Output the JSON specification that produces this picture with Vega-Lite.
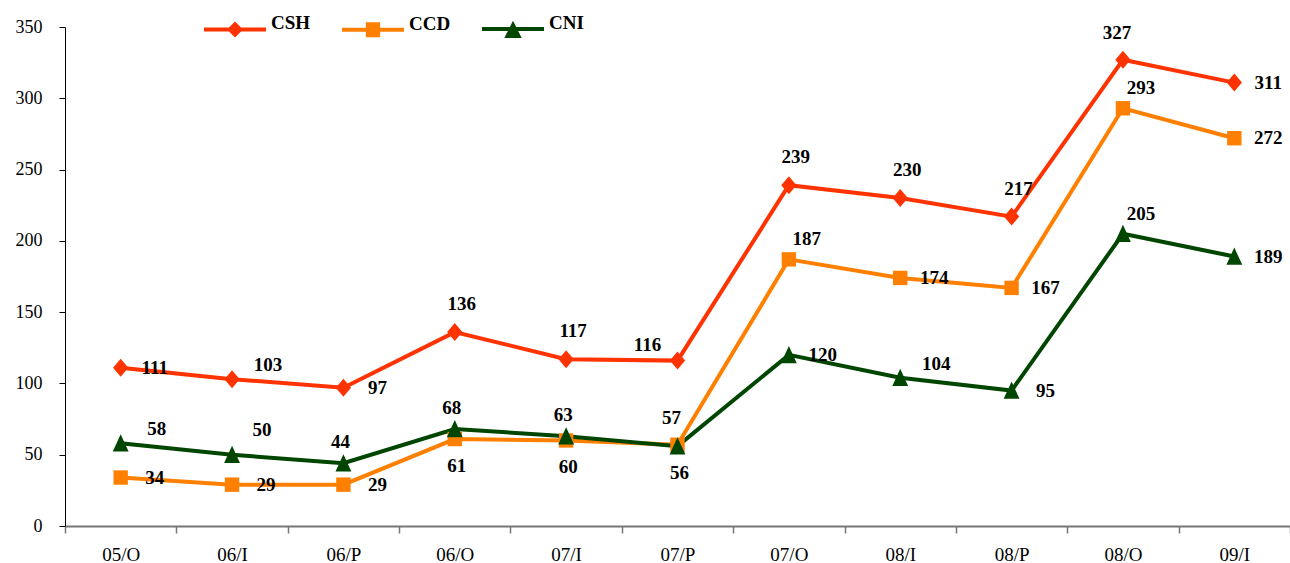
{
  "$schema": "https://vega.github.io/schema/vega-lite/v6.json",
  "width": 1225,
  "height": 499,
  "autosize": {"type": "none"},
  "padding": {"left": 65, "top": 27, "right": 0, "bottom": 37},
  "background": "white",
  "config": {"view": {"stroke": null}, "font": "Liberation Serif"},
  "data": {"values": [
    {"p": "05/O", "s": "CSH", "v": 111}, {"p": "06/I", "s": "CSH", "v": 103}, {"p": "06/P", "s": "CSH", "v": 97},
    {"p": "06/O", "s": "CSH", "v": 136}, {"p": "07/I", "s": "CSH", "v": 117}, {"p": "07/P", "s": "CSH", "v": 116},
    {"p": "07/O", "s": "CSH", "v": 239}, {"p": "08/I", "s": "CSH", "v": 230}, {"p": "08/P", "s": "CSH", "v": 217},
    {"p": "08/O", "s": "CSH", "v": 327}, {"p": "09/I", "s": "CSH", "v": 311},
    {"p": "05/O", "s": "CCD", "v": 34}, {"p": "06/I", "s": "CCD", "v": 29}, {"p": "06/P", "s": "CCD", "v": 29},
    {"p": "06/O", "s": "CCD", "v": 61}, {"p": "07/I", "s": "CCD", "v": 60}, {"p": "07/P", "s": "CCD", "v": 57},
    {"p": "07/O", "s": "CCD", "v": 187}, {"p": "08/I", "s": "CCD", "v": 174}, {"p": "08/P", "s": "CCD", "v": 167},
    {"p": "08/O", "s": "CCD", "v": 293}, {"p": "09/I", "s": "CCD", "v": 272},
    {"p": "05/O", "s": "CNI", "v": 58}, {"p": "06/I", "s": "CNI", "v": 50}, {"p": "06/P", "s": "CNI", "v": 44},
    {"p": "06/O", "s": "CNI", "v": 68}, {"p": "07/I", "s": "CNI", "v": 63}, {"p": "07/P", "s": "CNI", "v": 56},
    {"p": "07/O", "s": "CNI", "v": 120}, {"p": "08/I", "s": "CNI", "v": 104}, {"p": "08/P", "s": "CNI", "v": 95},
    {"p": "08/O", "s": "CNI", "v": 205}, {"p": "09/I", "s": "CNI", "v": 189}
  ]},
  "encoding": {
    "x": {
      "field": "p", "type": "ordinal",
      "sort": ["05/O", "06/I", "06/P", "06/O", "07/I", "07/P", "07/O", "08/I", "08/P", "08/O", "09/I"],
      "bandPosition": 0.5,
      "scale": {"type": "band", "paddingInner": 0, "paddingOuter": 0},
      "axis": {
        "title": null, "labelAngle": 0, "tickBand": "extent",
        "domainColor": "#777777", "domainWidth": 2, "tickColor": "#777777", "tickWidth": 1.5, "tickSize": 7,
        "labelFont": "Liberation Serif", "labelFontSize": 19, "labelColor": "black", "labelPadding": 12,
        "grid": false
      }
    },
    "y": {
      "field": "v", "type": "quantitative",
      "scale": {"domain": [0, 350], "nice": false},
      "axis": {
        "title": null, "values": [0, 50, 100, 150, 200, 250, 300, 350],
        "domainColor": "black", "domainWidth": 1, "tickColor": "black", "tickSize": 6,
        "labelFont": "Liberation Serif", "labelFontSize": 18, "labelColor": "black", "labelPadding": 17,
        "grid": false
      }
    }
  },
  "layer": [
    {
      "transform": [{"filter": "false"}],
      "mark": {"type": "point", "filled": true, "opacity": 1, "strokeWidth": 0},
      "encoding": {
        "color": {
          "field": "s", "type": "nominal",
          "scale": {"domain": ["CSH", "CCD", "CNI"], "range": ["#ff3300", "#ff8000", "#004600"]},
          "legend": {
            "orient": "none", "legendX": 139, "legendY": -29, "direction": "horizontal", "title": null,
            "labelFont": "Liberation Serif", "labelFontSize": 19, "labelFontWeight": "bold", "labelColor": "black",
            "labelOffset": 5, "columnPadding": 31, "symbolSize": 3844, "labelBaseline": "alphabetic",
            "symbolStrokeWidth": 0, "symbolOpacity": 1
          }
        },
        "shape": {
          "field": "s", "type": "nominal",
          "scale": {"domain": ["CSH", "CCD", "CNI"], "range": [
            "M-1,-0.065H1V0.065H-1Z M0,-0.26L0.26,0L0,0.26L-0.26,0Z",
            "M-1,-0.065H1V0.065H-1Z M-0.23,-0.24H0.23V0.24H-0.23Z",
            "M-1,-0.065H1V0.065H-1Z M0,-0.27L0.28,0.29L-0.28,0.29Z"
          ]},
          "legend": {
            "orient": "none", "legendX": 139, "legendY": -29, "direction": "horizontal", "title": null,
            "labelFont": "Liberation Serif", "labelFontSize": 19, "labelFontWeight": "bold", "labelColor": "black",
            "labelOffset": 5, "columnPadding": 31, "symbolSize": 3844, "labelBaseline": "alphabetic",
            "symbolStrokeWidth": 0, "symbolOpacity": 1
          }
        }
      }
    },
    {
      "mark": {"type": "line", "strokeWidth": 4},
      "encoding": {
        "order": {"value": null},
        "color": {"field": "s", "type": "nominal", "legend": null}
      }
    },
    {
      "transform": [{"filter": "datum.s === 'CSH'"}],
      "mark": {"type": "point", "filled": true, "opacity": 1, "size": 324, "strokeWidth": 0, "shape": "M0,-1L0.85,0L0,1L-0.85,0Z"},
      "encoding": {"color": {"field": "s", "type": "nominal", "legend": null}}
    },
    {
      "transform": [{"filter": "datum.s === 'CCD'"}],
      "mark": {"type": "point", "filled": true, "opacity": 1, "size": 324, "strokeWidth": 0, "shape": "M-0.8,-0.8H0.8V0.8H-0.8Z"},
      "encoding": {"color": {"field": "s", "type": "nominal", "legend": null}}
    },
    {
      "transform": [{"filter": "datum.s === 'CNI'"}],
      "mark": {"type": "point", "filled": true, "opacity": 1, "size": 324, "strokeWidth": 0, "shape": "M0,-1L0.88,0.92L-0.88,0.92Z"},
      "encoding": {"color": {"field": "s", "type": "nominal", "legend": null}}
    },
    {
      "transform": [{"filter": "indexof(['CSH|05/O','CSH|06/P','CSH|09/I','CCD|05/O','CCD|06/I','CCD|06/P','CCD|08/I','CCD|08/P','CCD|09/I','CNI|07/O','CNI|08/P','CNI|09/I'], datum.s + '|' + datum.p) >= 0"}],
      "mark": {"type": "text", "dx": 34, "dy": 0, "font": "Liberation Serif", "fontSize": 19, "fontWeight": "bold", "fill": "black"},
      "encoding": {"text": {"field": "v", "type": "quantitative"}}
    },
    {
      "transform": [{"filter": "indexof(['CSH|06/I','CNI|05/O','CNI|08/I'], datum.s + '|' + datum.p) >= 0"}],
      "mark": {"type": "text", "dx": 36, "dy": -14, "font": "Liberation Serif", "fontSize": 19, "fontWeight": "bold", "fill": "black"},
      "encoding": {"text": {"field": "v", "type": "quantitative"}}
    },
    {
      "transform": [{"filter": "indexof(['CNI|06/I'], datum.s + '|' + datum.p) >= 0"}],
      "mark": {"type": "text", "dx": 30, "dy": -25, "font": "Liberation Serif", "fontSize": 19, "fontWeight": "bold", "fill": "black"},
      "encoding": {"text": {"field": "v", "type": "quantitative"}}
    },
    {
      "transform": [{"filter": "indexof(['CSH|06/O','CSH|07/I','CSH|07/O','CSH|08/I','CSH|08/P'], datum.s + '|' + datum.p) >= 0"}],
      "mark": {"type": "text", "dx": 7, "dy": -28, "font": "Liberation Serif", "fontSize": 19, "fontWeight": "bold", "fill": "black"},
      "encoding": {"text": {"field": "v", "type": "quantitative"}}
    },
    {
      "transform": [{"filter": "indexof(['CSH|08/O','CCD|07/P'], datum.s + '|' + datum.p) >= 0"}],
      "mark": {"type": "text", "dx": -6, "dy": -27, "font": "Liberation Serif", "fontSize": 19, "fontWeight": "bold", "fill": "black"},
      "encoding": {"text": {"field": "v", "type": "quantitative"}}
    },
    {
      "transform": [{"filter": "indexof(['CNI|06/P','CNI|06/O','CNI|07/I'], datum.s + '|' + datum.p) >= 0"}],
      "mark": {"type": "text", "dx": -3, "dy": -21, "font": "Liberation Serif", "fontSize": 19, "fontWeight": "bold", "fill": "black"},
      "encoding": {"text": {"field": "v", "type": "quantitative"}}
    },
    {
      "transform": [{"filter": "indexof(['CCD|06/O','CCD|07/I','CNI|07/P'], datum.s + '|' + datum.p) >= 0"}],
      "mark": {"type": "text", "dx": 2, "dy": 27, "font": "Liberation Serif", "fontSize": 19, "fontWeight": "bold", "fill": "black"},
      "encoding": {"text": {"field": "v", "type": "quantitative"}}
    },
    {
      "transform": [{"filter": "indexof(['CCD|07/O','CCD|08/O','CNI|08/O'], datum.s + '|' + datum.p) >= 0"}],
      "mark": {"type": "text", "dx": 18, "dy": -20, "font": "Liberation Serif", "fontSize": 19, "fontWeight": "bold", "fill": "black"},
      "encoding": {"text": {"field": "v", "type": "quantitative"}}
    },
    {
      "transform": [{"filter": "indexof(['CSH|07/P'], datum.s + '|' + datum.p) >= 0"}],
      "mark": {"type": "text", "dx": -30, "dy": -16, "font": "Liberation Serif", "fontSize": 19, "fontWeight": "bold", "fill": "black"},
      "encoding": {"text": {"field": "v", "type": "quantitative"}}
    }
  ]
}
